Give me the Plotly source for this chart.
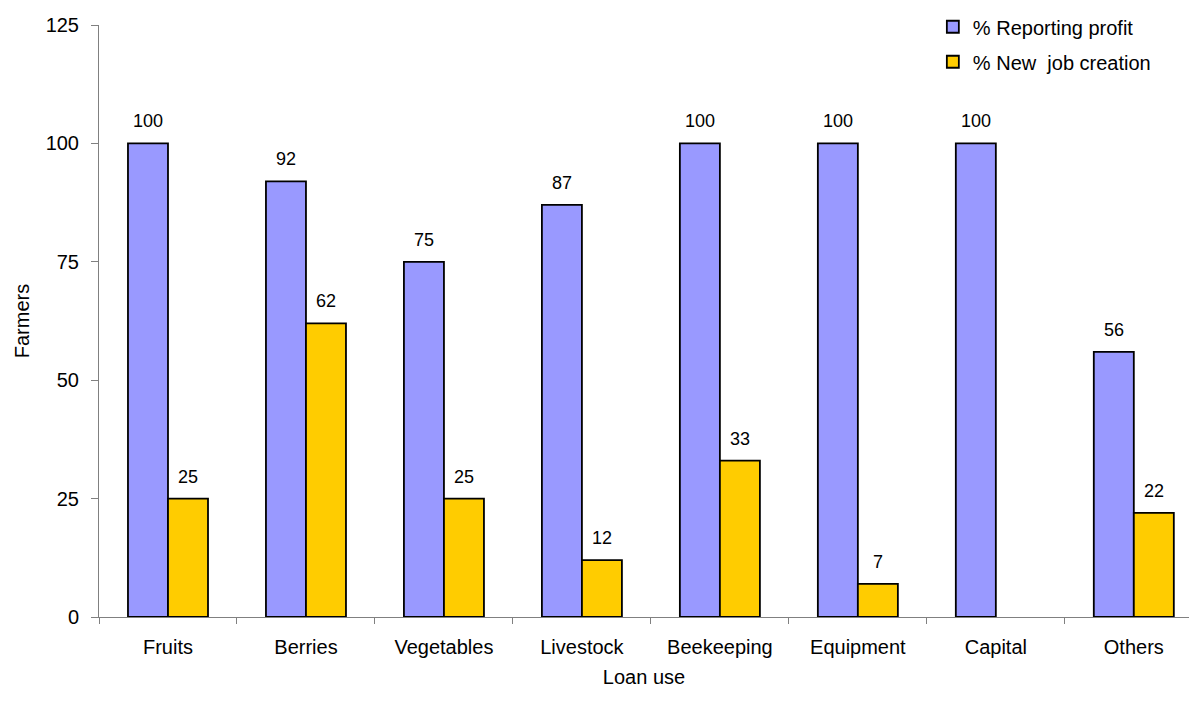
import plotly.graph_objects as go

categories = ["Fruits", "Berries", "Vegetables", "Livestock", "Beekeeping",
              "Equipment", "Capital", "Others"]
reporting_profit = [100, 92, 75, 87, 100, 100, 100, 56]
new_job_creation = [25, 62, 25, 12, 33, 7, None, 22]
y_ticks = [0, 25, 50, 75, 100, 125]

FONT = "Liberation Sans, Arial, sans-serif"
BLUE = "#9999FF"
YELLOW = "#FFCC00"
AXIS_GREY = "#808080"

fig = go.Figure()
fig.add_trace(go.Bar(
    x=categories, y=reporting_profit, name="% Reporting profit",
    marker=dict(color=BLUE, line=dict(color="black", width=1.8)),
    legendgroup="a",
))
fig.add_trace(go.Bar(
    x=categories, y=new_job_creation, name="% New  job creation",
    marker=dict(color=YELLOW, line=dict(color="black", width=1.8)),
    legendgroup="b",
))

# value labels above each bar
annotations = []
for series, shift in ((reporting_profit, -20), (new_job_creation, 20)):
    for cat, val in zip(categories, series):
        if val is None:
            continue
        annotations.append(dict(
            x=cat, y=val, text=str(val), showarrow=False,
            xshift=shift, yshift=10, yanchor="bottom",
            font=dict(family=FONT, size=18, color="black"),
        ))

fig.update_layout(
    width=1189, height=712,
    margin=dict(l=99, r=0, t=25, b=95),
    paper_bgcolor="white", plot_bgcolor="white",
    font=dict(family=FONT, size=20, color="black"),
    barmode="group", bargap=0.42, bargroupgap=0,
    showlegend=True,
    legend=dict(
        x=0.765, y=1.03, xanchor="left", yanchor="top",
        font=dict(family=FONT, size=20, color="black"),
        tracegroupgap=6, bgcolor="rgba(0,0,0,0)",
    ),
    annotations=annotations,
)

fig.update_xaxes(
    type="category", range=[-0.5, 7.4],
    showline=True, linecolor=AXIS_GREY, linewidth=1,
    ticks="outside", tickson="boundaries", ticklen=6, tickcolor=AXIS_GREY,
    ticklabelstandoff=12,
    showgrid=False, zeroline=False,
    title=dict(text="Loan use", font=dict(family=FONT, size=20), standoff=12),
)
fig.update_yaxes(
    range=[0, 125], tickvals=y_ticks,
    showline=True, linecolor=AXIS_GREY, linewidth=1,
    ticks="outside", ticklen=7, tickcolor=AXIS_GREY,
    ticklabelstandoff=8,
    showgrid=False, zeroline=False,
    title=dict(text="Farmers", font=dict(family=FONT, size=20), standoff=10),
)

fig.write_html("out.html")
